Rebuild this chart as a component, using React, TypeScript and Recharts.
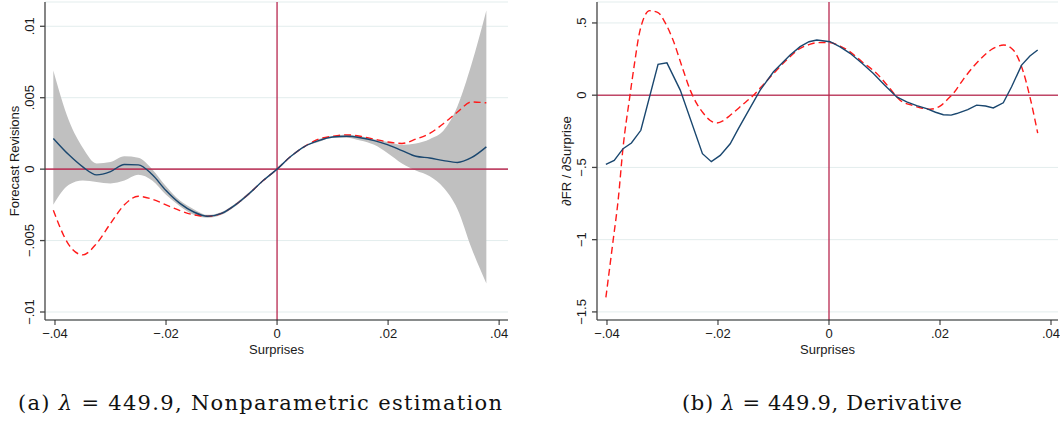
import React from 'react';
import {
  ComposedChart,
  Line,
  Area,
  XAxis,
  YAxis,
  CartesianGrid,
  ReferenceLine
} from 'recharts';

// panel (a): nonparametric fit of forecast revisions on surprises
const surpriseGrid = [
  -0.0403, -0.0375, -0.035, -0.0325, -0.03, -0.0275, -0.025, -0.0225, -0.02, -0.0175,
  -0.015, -0.0125, -0.01, -0.0075, -0.005, -0.0025, 0, 0.0025, 0.005, 0.0075,
  0.01, 0.0125, 0.015, 0.0175, 0.02, 0.0225, 0.025, 0.0275, 0.03, 0.0325, 0.035, 0.0377
];
const fittedRevision = [
  0.00215, 0.001, 0.00016, -0.0004, -0.00017, 0.00033, 0.0003, -0.00038, -0.0015, -0.0024,
  -0.003, -0.0033, -0.0031, -0.0025, -0.0017, -0.0008, 0, 0.0009, 0.0016, 0.002,
  0.00225, 0.0023, 0.0022, 0.002, 0.0017, 0.0013, 0.0009, 0.00078, 0.0006, 0.00047, 0.0008, 0.00156
];
const bandLower = [
  -0.0025, -0.0011, -0.0008, -0.0009, -0.001, -0.0008, -0.0004, -0.0008, -0.0018, -0.0026,
  -0.0032, -0.0034, -0.0032, -0.0026, -0.0018, -0.0008, 0, 0.0009, 0.0016, 0.0019,
  0.0022, 0.0022, 0.002, 0.0017, 0.0011, 0.0004, -0.0001, -0.0005, -0.0013, -0.0028, -0.0055, -0.008
];
const bandUpper = [
  0.0069, 0.0034, 0.0015, 0.0004, 0.0005, 0.0009, 0.0008, 0, -0.0012, -0.0022,
  -0.0028, -0.0032, -0.003, -0.0024, -0.0016, -0.0008, 0, 0.0009, 0.0016, 0.0021,
  0.0023, 0.0024, 0.0023, 0.0021, 0.0019, 0.0017, 0.0018, 0.0021, 0.0027, 0.0044, 0.0073, 0.0111
];
const parametricRevision = [
  -0.00287, -0.0053, -0.006, -0.0052, -0.0038, -0.0025, -0.0019, -0.0021, -0.0025, -0.0029,
  -0.0032, -0.0033, -0.0031, -0.0025, -0.0017, -0.0008, 0, 0.0009, 0.0016, 0.0021,
  0.0023, 0.0024, 0.0023, 0.0021, 0.0019, 0.0018, 0.0021, 0.0025, 0.0032, 0.004, 0.0047, 0.00464
];

// panel (b): derivative
const derivFitSurprise = [
  -0.0402, -0.0387, -0.0371, -0.0356, -0.0339, -0.0308, -0.0292, -0.0268, -0.0228, -0.0212,
  -0.0196, -0.0178, -0.0163, -0.0148, -0.0124, -0.01, -0.007, -0.0052, -0.0036, -0.0022,
  0.0002, 0.002, 0.0038, 0.006, 0.008, 0.01, 0.0122, 0.014, 0.0158, 0.0176,
  0.0192, 0.0206, 0.022, 0.023, 0.025, 0.0266, 0.0282, 0.0296, 0.0314, 0.0329,
  0.0347, 0.0362, 0.0376
];
const derivFitValue = [
  -0.479, -0.451, -0.37, -0.331, -0.243, 0.213, 0.224, 0.035, -0.405, -0.46,
  -0.417, -0.336, -0.23, -0.127, 0.035, 0.162, 0.278, 0.336, 0.37, 0.382,
  0.37, 0.335, 0.29, 0.22, 0.15, 0.07, -0.012, -0.046, -0.072, -0.093,
  -0.118, -0.135, -0.138, -0.127, -0.1, -0.069, -0.075, -0.088, -0.053, 0.058,
  0.208, 0.271, 0.3125
];
const derivParSurprise = [
  -0.0402, -0.0389, -0.038, -0.0371, -0.0359, -0.035, -0.0341, -0.0323, -0.0308, -0.0295,
  -0.0281, -0.0265, -0.025, -0.0238, -0.0226, -0.0214, -0.0202, -0.019, -0.0178, -0.0157,
  -0.0136, -0.0118, -0.01, -0.0076, -0.0052, -0.0036, -0.0022, 0, 0.002, 0.0038,
  0.006, 0.0086, 0.0108, 0.0128, 0.015, 0.0168, 0.0182, 0.02, 0.0212, 0.0224,
  0.0242, 0.026, 0.0278, 0.0296, 0.0315, 0.0332, 0.035, 0.0362, 0.0376
];
const derivParValue = [
  -1.4, -1.007, -0.73, -0.36, -0.012, 0.23, 0.44, 0.585, 0.572, 0.5,
  0.382, 0.2, 0.035, -0.06, -0.127, -0.175, -0.192, -0.175, -0.139, -0.07,
  0, 0.075, 0.15, 0.245, 0.324, 0.35, 0.363, 0.365, 0.34, 0.3,
  0.23, 0.15, 0.055, -0.035, -0.07, -0.09, -0.097, -0.076, -0.035, 0.012,
  0.11, 0.197, 0.27, 0.324, 0.347, 0.3125, 0.162, -0.012, -0.262
];

const surpriseTicks = [-0.04, -0.02, 0, 0.02, 0.04];
const revisionTicks = [-0.01, -0.005, 0, 0.005, 0.01];
const derivTicks = [-1.5, -1, -0.5, 0, 0.5];

const levelData = surpriseGrid.map((x, i) => ({
  x,
  fit: fittedRevision[i],
  par: parametricRevision[i],
  band: [bandLower[i], bandUpper[i]]
}));
const derivFitData = derivFitSurprise.map((x, i) => ({ x, y: derivFitValue[i] }));
const derivParData = derivParSurprise.map((x, i) => ({ x, y: derivParValue[i] }));

const SANS = '"Liberation Sans", Arial, Helvetica, sans-serif';
const NAVY = '#1a476f';
const RED = '#ff1a1a';
const REF = '#b8284f';
const GRID = '#e3eded';
const AXIS = '#444';

// stata style labels: .02, -.005, 0
const fmt = (v: number) => String(v).replace('0.', '.').replace('-', '\u2212');

const YTick = ({ x, y, payload }: any) => {
  const tx = x - 6;
  return (
    <text
      x={tx}
      y={y}
      transform={`rotate(-90 ${tx} ${y})`}
      textAnchor="middle"
      fontSize={13}
      fontFamily={SANS}
      fill="#1a1a1a"
    >
      {fmt(payload.value)}
    </text>
  );
};

const AxisTitle = ({ viewBox, titleText, vertical }: any) => {
  const { x, y, width, height } = viewBox;
  if (vertical) {
    const tx = x + 19;
    const ty = y + height / 2;
    return (
      <text x={tx} y={ty} transform={`rotate(-90 ${tx} ${ty})`} textAnchor="middle"
        fontSize={13} fontFamily={SANS} fill="#1a1a1a">
        {titleText}
      </text>
    );
  }
  return (
    <text x={x + width / 2} y={y + 33.5} textAnchor="middle" fontSize={13} fontFamily={SANS} fill="#1a1a1a">
      {titleText}
    </text>
  );
};

const xAxisProps = {
  type: 'number' as const,
  dataKey: 'x',
  ticks: surpriseTicks,
  tickFormatter: fmt,
  allowDataOverflow: true,
  height: 50,
  stroke: '#222',
  tickSize: 5,
  tickMargin: 4,
  tick: { fontSize: 13, fill: '#1a1a1a', fontFamily: SANS }
};

const LevelPanel = () => (
  <ComposedChart width={520} height={370} data={levelData} margin={{ top: 2, right: 12, bottom: 0, left: 0 }}>
    <CartesianGrid vertical={false} stroke={GRID} strokeWidth={1} />
    <XAxis {...xAxisProps} domain={[-0.0418, 0.0416]}
      label={<AxisTitle titleText="Surprises" />} />
    <YAxis
      type="number"
      domain={[-0.01056, 0.0117]}
      ticks={revisionTicks}
      interval={0}
      allowDataOverflow
      width={45}
      stroke={AXIS}
      strokeWidth={1.3}
      tickSize={5}
      tickMargin={0}
      tick={<YTick />}
      label={<AxisTitle titleText="Forecast Revisions" vertical />}
    />
    <Area dataKey="band" type="monotone" stroke="none" fill="#c0c0c0" fillOpacity={1}
      dot={false} activeDot={false} isAnimationActive={false} />
    <ReferenceLine y={0} stroke={REF} strokeWidth={1.6} strokeOpacity={0.85} />
    <ReferenceLine x={0} stroke={REF} strokeWidth={1.3} />
    <Line dataKey="par" type="monotone" stroke={RED} strokeWidth={1.4} strokeDasharray="7 4"
      dot={false} activeDot={false} isAnimationActive={false} />
    <Line dataKey="fit" type="monotone" stroke={NAVY} strokeWidth={1.4}
      dot={false} activeDot={false} isAnimationActive={false} />
  </ComposedChart>
);

const DerivPanel = () => (
  <ComposedChart width={508} height={370} margin={{ top: 2, right: 2, bottom: 0, left: 0 }}>
    <CartesianGrid vertical={false} stroke={GRID} strokeWidth={1} />
    <XAxis {...xAxisProps} domain={[-0.0418, 0.04126]}
      label={<AxisTitle titleText="Surprises" />} />
    <YAxis
      type="number"
      domain={[-1.556, 0.645]}
      ticks={derivTicks}
      interval={0}
      allowDataOverflow
      width={45}
      stroke={AXIS}
      strokeWidth={1.3}
      tickSize={5}
      tickMargin={0}
      tick={<YTick />}
      label={<AxisTitle titleText="∂FR / ∂Surprise" vertical />}
    />
    <ReferenceLine y={0} stroke={REF} strokeWidth={1.6} strokeOpacity={0.85} />
    <ReferenceLine x={0} stroke={REF} strokeWidth={1.3} />
    <Line data={derivParData} dataKey="y" type="monotone" stroke={RED} strokeWidth={1.4} strokeDasharray="7 4"
      dot={false} activeDot={false} isAnimationActive={false} />
    <Line data={derivFitData} dataKey="y" type="linear" stroke={NAVY} strokeWidth={1.4}
      dot={false} activeDot={false} isAnimationActive={false} />
  </ComposedChart>
);

export default function App() {
  return (
    <div style={{ position: 'absolute', left: 0, top: 0, width: 1060, height: 423, background: '#fff', overflow: 'hidden' }}>
      <div style={{ position: 'absolute', left: 0, top: 0 }}>
        <LevelPanel />
      </div>
      <div style={{ position: 'absolute', left: 552, top: 0 }}>
        <DerivPanel />
      </div>
      <svg width={1060} height={53} style={{ position: 'absolute', left: 0, top: 370 }}>
        <text x={18} y={40} fontFamily='"DejaVu Serif", serif' fontSize={21} fill="#111"
          textLength={484} lengthAdjust="spacing">
          (a){'  '}<tspan fontStyle="italic">λ</tspan> = 449.9, Nonparametric estimation
        </text>
        <text x={682} y={40} fontFamily='"DejaVu Serif", serif' fontSize={21} fill="#111"
          textLength={280} lengthAdjust="spacing">
          (b){'  '}<tspan fontStyle="italic">λ</tspan> = 449.9, Derivative
        </text>
      </svg>
    </div>
  );
}
